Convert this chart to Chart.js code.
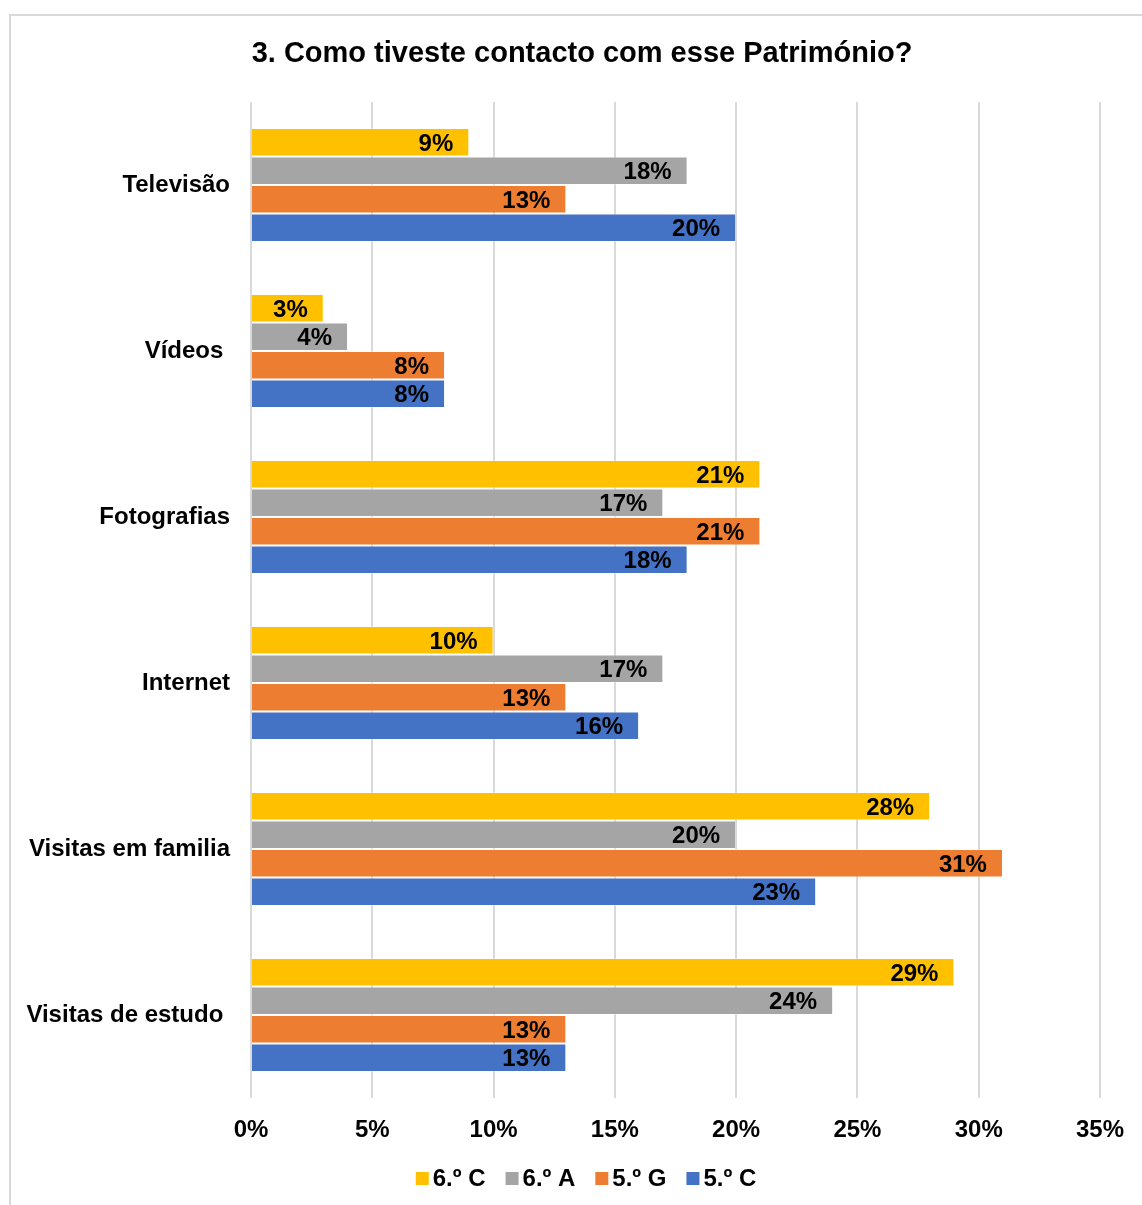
<!DOCTYPE html>
<html>
<head>
<meta charset="utf-8">
<title>Como tiveste contacto com esse Património?</title>
<script src="https://cdn.jsdelivr.net/npm/chart.js@4.4.1/dist/chart.umd.min.js"></script>
<style>
    html, body { margin: 0; padding: 0; background: #fff; }
    #wrap { position: relative; width: 1142px; height: 1205px; }
</style>
</head>
<body>
<div id="wrap"><canvas id="chart" width="1142" height="1205"></canvas></div>
<script>
(function() {
    'use strict';

    // Chart data
    const chartTitle = '3. Como tiveste contacto com esse Património?';
    const categories = ['Televisão', 'Vídeos ', 'Fotografias', 'Internet', 'Visitas em familia', 'Visitas de estudo '];
    const seriesNames = ['6.º C', '6.º A', '5.º G', '5.º C'];
    const seriesColors = ['#FFC000', '#A5A5A5', '#ED7D31', '#4472C4'];
    const values6C = [9, 3, 21, 10, 28, 29];
    const values6A = [18, 4, 17, 17, 20, 24];
    const values5G = [13, 8, 21, 13, 31, 13];
    const values5C = [20, 8, 18, 16, 23.3, 13];
    const xTickValues = [0, 5, 10, 15, 20, 25, 30, 35];

    const FONT = '"Liberation Sans", Arial, sans-serif';
    const seriesValues = [values6C, values6A, values5G, values5C];

    /**
     * Outer frame, title and legend
     */
    const decorPlugin = {
        id: 'decor',
        beforeDraw(chart) {
            const ctx = chart.ctx;
            ctx.save();
            ctx.strokeStyle = '#d9d9d9';
            ctx.lineWidth = 2;
            ctx.strokeRect(10, 15, chart.width + 20, chart.height + 20);
            ctx.restore();
        },
        afterDraw(chart) {
            const ctx = chart.ctx;
            ctx.save();

            // Title
            ctx.fillStyle = '#000';
            ctx.font = 'bold 29px ' + FONT;
            ctx.textAlign = 'center';
            ctx.textBaseline = 'alphabetic';
            ctx.fillText(chartTitle, 582, 62);

            // Legend
            ctx.font = 'bold 24px ' + FONT;
            ctx.textAlign = 'left';
            const box = 13, gap = 4, spacing = 20;
            const items = chart.data.datasets.map(ds => ({
                text: ds.label,
                color: ds.backgroundColor,
                width: box + gap + ctx.measureText(ds.label).width
            }));
            const total = items.reduce((s, it) => s + it.width, 0) + spacing * (items.length - 1);
            let x = 586 - total / 2;
            items.forEach(it => {
                ctx.fillStyle = it.color;
                ctx.fillRect(x, 1172, box, box);
                ctx.fillStyle = '#000';
                ctx.fillText(it.text, x + box + gap, 1186);
                x += it.width + spacing;
            });
            ctx.restore();
        }
    };

    /**
     * Value labels at the inner end of each bar
     */
    const barLabelPlugin = {
        id: 'barLabels',
        afterDatasetsDraw(chart) {
            const ctx = chart.ctx;
            ctx.save();
            ctx.font = 'bold 24px ' + FONT;
            ctx.fillStyle = '#000';
            ctx.textAlign = 'right';
            ctx.textBaseline = 'alphabetic';
            chart.data.datasets.forEach((ds, i) => {
                const meta = chart.getDatasetMeta(i);
                meta.data.forEach((bar, j) => {
                    const text = Math.round(ds.data[j]) + '%';
                    ctx.fillText(text, bar.x - 16, bar.y + 8.5);
                });
            });
            ctx.restore();
        }
    };

    const datasets = seriesNames.map((name, i) => ({
        label: name,
        data: seriesValues[i],
        backgroundColor: seriesColors[i],
        borderColor: 'rgba(255, 255, 255, 0.35)',
        borderWidth: 1,
        categoryPercentage: 0.687,
        barPercentage: 1
    }));

    new Chart(document.getElementById('chart'), {
        type: 'bar',
        data: {
            labels: categories,
            datasets: datasets
        },
        options: {
            indexAxis: 'y',
            responsive: false,
            devicePixelRatio: 1,
            animation: false,
            layout: {
                padding: { top: 102, right: 41, bottom: 57, left: 0 }
            },
            plugins: {
                legend: { display: false },
                title: { display: false },
                tooltip: { enabled: false }
            },
            scales: {
                x: {
                    min: 0,
                    max: 35,
                    afterBuildTicks(scale) {
                        scale.ticks = xTickValues.map(v => ({ value: v }));
                    },
                    afterFit(scale) {
                        scale.height = 50;
                    },
                    ticks: {
                        callback: v => v + '%',
                        color: '#000',
                        padding: 18,
                        font: { family: FONT, size: 24, weight: 'bold' }
                    },
                    grid: {
                        color: '#d9d9d9',
                        lineWidth: 2,
                        drawTicks: false
                    },
                    border: { display: false }
                },
                y: {
                    afterFit(scale) {
                        scale.width = 251;
                    },
                    ticks: {
                        color: '#000',
                        padding: 21,
                        font: { family: FONT, size: 24, weight: 'bold' }
                    },
                    grid: { display: false, drawTicks: false },
                    border: { display: false }
                }
            }
        },
        plugins: [decorPlugin, barLabelPlugin]
    });
})();
</script>
</body>
</html>
